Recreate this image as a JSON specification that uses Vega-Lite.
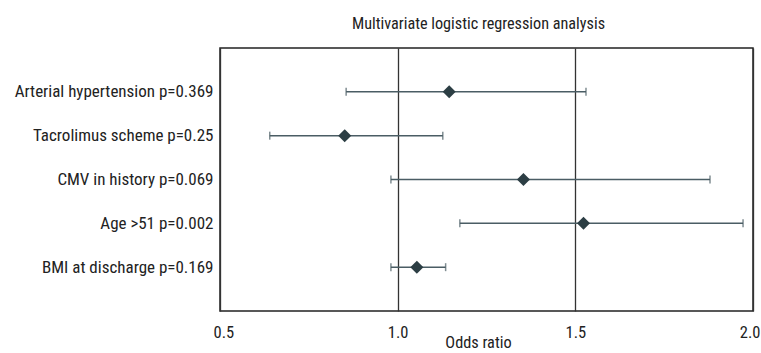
{
  "$schema": "https://vega.github.io/schema/vega-lite/v6.json",
  "autosize": {"type": "none"},
  "width": 533,
  "height": 263,
  "padding": {"left": 220, "top": 48, "right": 8, "bottom": 42},
  "background": "white",
  "title": {
    "text": "Multivariate logistic regression analysis",
    "font": "Roboto Condensed, DejaVu Sans Condensed, sans-serif",
    "fontSize": 16.2,
    "fontWeight": "normal",
    "color": "#222222",
    "anchor": "middle",
    "frame": "group",
    "dx": -8,
    "offset": 16
  },
  "config": {
    "view": {"stroke": "#222222", "strokeWidth": 1.5},
    "font": "Roboto Condensed, DejaVu Sans Condensed, sans-serif"
  },
  "data": {
    "values": [
      {"label": "Arterial hypertension p=0.369", "or": 1.145, "low": 0.855, "high": 1.53},
      {"label": "Tacrolimus scheme p=0.25", "or": 0.851, "low": 0.64, "high": 1.127},
      {"label": "CMV in history p=0.069", "or": 1.354, "low": 0.981, "high": 1.879},
      {"label": "Age >51 p=0.002", "or": 1.523, "low": 1.175, "high": 1.972},
      {"label": "BMI at discharge p=0.169", "or": 1.054, "low": 0.981, "high": 1.135}
    ]
  },
  "encoding": {
    "y": {
      "field": "label",
      "type": "nominal",
      "sort": null,
      "scale": {"type": "point", "padding": 1},
      "axis": {
        "title": null,
        "ticks": false,
        "domain": false,
        "labelFontSize": 17,
        "labelColor": "#222222",
        "labelPadding": 7,
        "labelLimit": 0
      }
    }
  },
  "layer": [
    {
      "mark": {"type": "rule", "color": "#4a5d64", "strokeWidth": 1.5},
      "encoding": {
        "x": {
          "field": "low",
          "type": "quantitative",
          "scale": {"domain": [0.5, 2.0], "nice": false, "zero": false},
          "axis": {
            "values": [0.5, 1.0, 1.5, 2.0],
            "format": ".1f",
            "title": "Odds ratio",
            "titleFontSize": 16.3,
            "titleFontWeight": "normal",
            "titleColor": "#222222",
            "titlePadding": -6,
            "titleX": 258,
            "titleAlign": "center",
            "labelFontSize": 16.5,
            "labelColor": "#222222",
            "labelPadding": 13,
            "labelFlush": true,
            "labelFlushOffset": 7,
            "ticks": false,
            "domain": false,
            "grid": true,
            "gridColor": "#333333",
            "gridWidth": 1.3,
            "gridOpacity": 1
          }
        },
        "x2": {"field": "high"}
      }
    },
    {
      "mark": {"type": "tick", "color": "#4a5d64", "thickness": 1.5, "size": 8, "orient": "vertical"},
      "encoding": {"x": {"field": "low", "type": "quantitative"}}
    },
    {
      "mark": {"type": "tick", "color": "#4a5d64", "thickness": 1.5, "size": 8, "orient": "vertical"},
      "encoding": {"x": {"field": "high", "type": "quantitative"}}
    },
    {
      "mark": {"type": "point", "shape": "diamond", "filled": true, "color": "#2c3e44", "opacity": 1, "size": 170},
      "encoding": {"x": {"field": "or", "type": "quantitative"}}
    }
  ]
}
